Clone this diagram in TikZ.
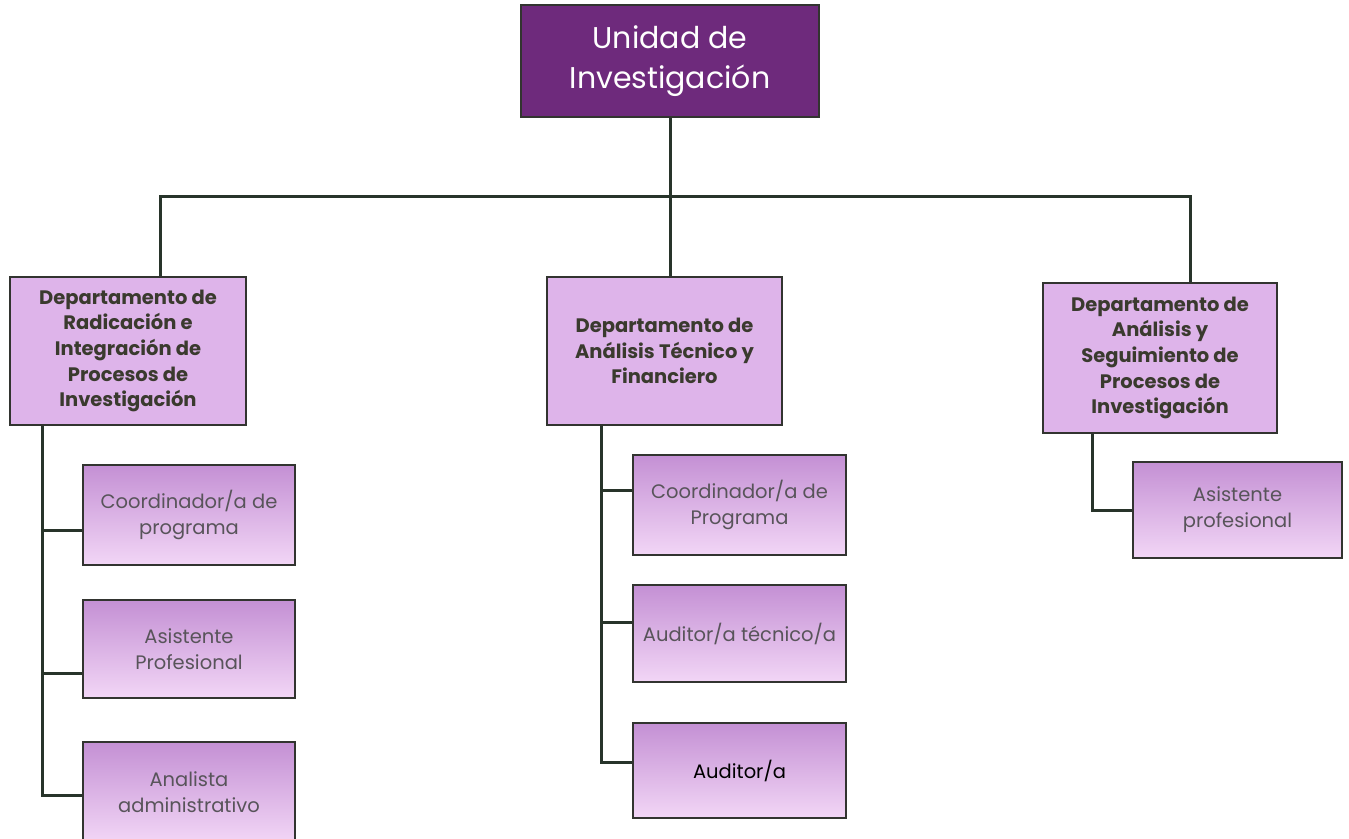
\documentclass[tikz,border=0pt]{standalone}
\usepackage{fontspec}
\setmainfont{Poppins}
\usepackage{tikz}
\usetikzlibrary{positioning, calc}
\definecolor{plum}{RGB}{110, 42, 124}
\definecolor{lilac}{RGB}{222, 180, 234}
\definecolor{lilactop}{RGB}{196, 144, 212}
\definecolor{lilacbot}{RGB}{242, 214, 246}
\definecolor{edge}{RGB}{50, 52, 48}
\definecolor{wire}{RGB}{40, 52, 42}
\definecolor{deptext}{RGB}{58, 58, 46}
\definecolor{posttext}{RGB}{88, 84, 90}

\begin{document}
\begin{tikzpicture}[x=1pt, y=-1pt,
    unit/.style={draw=edge, line width=2.5pt, fill=plum, text=white, align=center,
      inner sep=0pt, font=\fontsize{30}{40}\selectfont},
    dept/.style={draw=edge, line width=2.5pt, fill=lilac, text=deptext, align=center,
      inner sep=0pt, font=\fontsize{19.5}{25.7}\selectfont\bfseries},
    post/.style={draw=edge, line width=2.5pt, top color=lilactop, bottom color=lilacbot,
      text=posttext, align=center, inner sep=0pt, font=\fontsize{19.5}{26}\selectfont},
    wiring/.style={draw=wire, line width=3pt}]
    \fill[white] (0,0) rectangle (1349,838);
    \clip (0,0) rectangle (1349,838);

    % top of the chart
    \node[unit, minimum width=298, minimum height=112] (unidad) at (670,61) {Unidad de\\Investigación};

    % departments
    \node[dept, minimum width=236, minimum height=148] (radicacion) at (128,351)
        {Departamento de\\Radicación e\\Integración de\\Procesos de\\Investigación};
    \node[dept, minimum width=235, minimum height=148] (tecnico) at (664.5,351)
        {Departamento de\\Análisis Técnico y\\Financiero};
    \node[dept, minimum width=234, minimum height=150] (seguimiento) at (1160,358)
        {Departamento de\\Análisis y\\Seguimiento de\\Procesos de\\Investigación};

    % posts under each department
    \node[post, minimum width=212, minimum height=100] (coordA) at (189,515) {Coordinador/a de\\programa};
    \node[post, minimum width=212, minimum height=98] (asistA) at (189,649) {Asistente\\Profesional};
    \node[post, minimum width=212, minimum height=100] (analista) at (189,792) {Analista\\administrativo};

    \node[post, minimum width=213, minimum height=100] (coordB) at (739.5,505) {Coordinador/a de\\Programa};
    \node[post, minimum width=213, minimum height=97] (auditec) at (739.5,633.5) {Auditor/a técnico/a};
    \node[post, minimum width=213, minimum height=95, text=black] (auditor) at (739.5,770.5) {Auditor/a};

    \node[post, minimum width=209, minimum height=96] (asistC) at (1237.5,510) {Asistente\\profesional};

    % wiring from the unit down to the departments
    \coordinate (bar) at (670,196);
    \draw[wiring] (unidad.south) -- (bar);
    \draw[wiring] (bar) -| ([xshift=32]radicacion.north);
    \draw[wiring] (bar) -| ([xshift=30]seguimiento.north);
    \draw[wiring] (bar) -- ([xshift=5.5]tecnico.north);

    % wiring from the departments down to the posts
    \coordinate (spineA) at ([xshift=-86]radicacion.south);
    \coordinate (spineB) at ([xshift=-63.5]tecnico.south);
    \coordinate (spineC) at ([xshift=-68]seguimiento.south);
    \draw[wiring] (spineA) |- ([yshift=-3]analista.west);
    \draw[wiring] ([yshift=-15]coordA.west) -- ([yshift=-15]coordA.west -| spineA);
    \draw[wiring] ([yshift=-24]asistA.west) -- ([yshift=-24]asistA.west -| spineA);
    \draw[wiring] (spineB) |- ([yshift=8]auditor.west);
    \draw[wiring] ([yshift=15]coordB.west) -- ([yshift=15]coordB.west -| spineB);
    \draw[wiring] ([yshift=11]auditec.west) -- ([yshift=11]auditec.west -| spineB);
    \draw[wiring] (spineC) |- (asistC.west);
\end{tikzpicture}
\end{document}
